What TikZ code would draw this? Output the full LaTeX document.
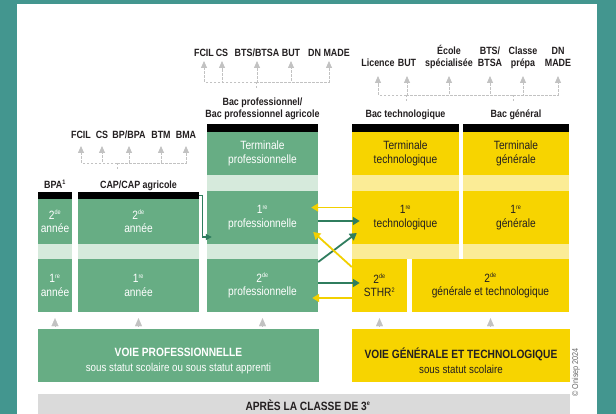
\documentclass[tikz,border=0pt]{standalone}
\usepackage{fontspec}
\setmainfont{Liberation Sans}[FakeStretch=0.85]
\usetikzlibrary{arrows.meta,calc,positioning}

\definecolor{frame}{HTML}{43968F}
\definecolor{pgreen}{HTML}{67AD84}
\definecolor{pband}{HTML}{D6EADC}
\definecolor{gyellow}{HTML}{F7D400}
\definecolor{gband}{HTML}{FBEC96}
\definecolor{arrgreen}{HTML}{2F7D5E}
\definecolor{arryellow}{HTML}{F2D000}
\definecolor{soft}{HTML}{C2C2C2}
\definecolor{after}{HTML}{DADADA}
\definecolor{ink}{HTML}{231F20}
\newcommand{\ord}[1]{\textsuperscript{\fontsize{6.5}{7}\selectfont #1}}

\begin{document}
\begin{tikzpicture}[x=1pt, y=-1pt,
	cell/.style={inner sep=0pt, align=center, font=\fontsize{12}{13.5}\selectfont},
	pcell/.style={cell, fill=pgreen, text=white},
	gcell/.style={cell, fill=gyellow, text=ink},
	bar/.style={fill=black, inner sep=0pt, minimum height=8pt},
	lbl/.style={inner sep=0pt, align=center, text depth=2pt, text=ink, font=\bfseries\fontsize{10.5}{12}\selectfont},
	dest/.style={lbl, anchor=south},
	dline/.style={draw=soft, line width=0.8pt, dash pattern=on 2.5pt off 1.5pt},
	tolevel/.style={dline, -{Triangle[width=6pt,length=7pt]}},
	uptip/.style={draw=soft, line width=0.1pt, -{Triangle[width=7pt,length=8pt]}},
	garr/.style={draw=arrgreen, line width=1.8pt, -{Triangle[width=8pt,length=7pt]}},
	yarr/.style={garr, draw=arryellow}]
	\useasboundingbox (0,0) rectangle (616,414);
	\fill[frame] (0,0) rectangle (616,414);
	\fill[white] (17,4) rectangle (597,414);

	% voie professionnelle
	\node[pcell, minimum width=34pt, minimum height=45pt] (bpa2) at (55,221.5) {2\ord{de}\\année};
	\node[pcell, minimum width=34pt, minimum height=53pt] (bpa1) at (55,285.5) {1\ord{re}\\année};
	\node[pcell, minimum width=121pt, minimum height=45pt] (cap2) at (138.5,221.5) {2\ord{de}\\année};
	\node[pcell, minimum width=121pt, minimum height=53pt] (cap1) at (138.5,285.5) {1\ord{re}\\année};
	\node[pcell, minimum width=111pt, minimum height=43pt] (protle) at (262.5,153.5) {Terminale\\professionnelle};
	\node[pcell, minimum width=111pt, minimum height=53pt] (pro1) at (262.5,217.5) {1\ord{re}\\professionnelle};
	\node[pcell, minimum width=111pt, minimum height=53pt] (pro2) at (262.5,285.5) {2\ord{de}\\professionnelle};
	\fill[pband] (bpa2.south west) rectangle (bpa1.north east);
	\fill[pband] (cap2.south west) rectangle (cap1.north east);
	\fill[pband] (protle.south west) rectangle (pro1.north east);
	\fill[pband] (pro1.south west) rectangle (pro2.north east);
	\node[bar, minimum width=34pt, minimum height=7pt, anchor=south] (bpabar) at (bpa2.north) {};
	\node[bar, minimum width=121pt, minimum height=7pt, anchor=south] (capbar) at (cap2.north) {};
	\node[bar, minimum width=111pt, anchor=south] (probar) at (protle.north) {};
	\node[lbl, above=1pt of bpabar] (bpalbl) {BPA\ord{1}};
	\node[lbl, above=1pt of capbar] (caplbl) {CAP/CAP agricole};
	\node[lbl, above=4pt of probar] (bacpro) {Bac professionnel/\\Bac professionnel agricole};

	% voie generale et technologique
	\node[gcell, minimum width=107pt, minimum height=43pt] (techtle) at (405.5,153.5) {Terminale\\technologique};
	\node[gcell, minimum width=106pt, minimum height=43pt] (gentle) at (516,153.5) {Terminale\\générale};
	\node[gcell, minimum width=107pt, minimum height=53pt] (tech1) at (405.5,217.5) {1\ord{re}\\technologique};
	\node[gcell, minimum width=106pt, minimum height=53pt] (gen1) at (516,217.5) {1\ord{re}\\générale};
	\node[gcell, minimum width=55pt, minimum height=53pt] (sthr) at (379.5,285.5) {2\ord{de}\\STHR\ord{2}};
	\node[gcell, minimum width=157pt, minimum height=53pt] (gt2) at (490.5,285.5) {2\ord{de}\\générale et technologique};
	\fill[gband] (techtle.south west) rectangle (tech1.north east);
	\fill[gband] (gentle.south west) rectangle (gen1.north east);
	\fill[gband] (tech1.south west) rectangle (tech1.south east |- sthr.north);
	\fill[gband] (gen1.south west) rectangle (gen1.south east |- gt2.north);
	\node[bar, minimum width=107pt, anchor=south] (techbar) at (techtle.north) {};
	\node[bar, minimum width=106pt, anchor=south] (genbar) at (gentle.north) {};
	\node[lbl, above=4pt of techbar] (bactech) {Bac technologique};
	\node[lbl, above=4pt of genbar] (bacgen) {Bac général};

	% poursuites d'etudes
	\node[dest] (pfcil) at (204,59) {FCIL};
	\node[dest] (pcs) at (222,59) {CS};
	\node[dest] (pbts) at (257,59) {BTS/BTSA};
	\node[dest] (pbut) at (291,59) {BUT};
	\node[dest] (pdn) at (329,59) {DN MADE};
	\coordinate (jpro) at (256,82);
	\foreach \d in {pfcil,pcs,pbts,pbut,pdn}
		\draw[tolevel, shorten >=2pt] (jpro) -| (\d);
	\draw[dline] (jpro) -- ++(0,6);

	\node[dest] (tlic) at (378,69) {Licence};
	\node[dest] (tbut) at (407,69) {BUT};
	\node[dest] (tecole) at (449,69) {École\\spécialisée};
	\node[dest] (gbts) at (490,69) {BTS/\\BTSA};
	\node[dest] (gcl) at (523,69) {Classe\\prépa};
	\node[dest] (gdn) at (558,69) {DN\\MADE};
	\coordinate (jtech) at (406,95);
	\coordinate (jgen) at (513,95);
	\draw[dline] (jtech) -- (jgen);
	\foreach \d in {tlic,tbut,tecole}
		\draw[tolevel, shorten >=7pt] (jtech) -| (\d);
	\foreach \d in {gbts,gcl,gdn}
		\draw[tolevel, shorten >=7pt] (jgen) -| (\d);
	\draw[dline] (jtech) -- ++(0,7);
	\draw[dline] (jgen) -- ++(0,7);

	\node[dest] (cfcil) at (81,141) {FCIL};
	\node[dest] (ccs) at (102,141) {CS};
	\node[dest] (cbp) at (129,141) {BP/BPA};
	\node[dest] (cbtm) at (161,141) {BTM};
	\node[dest] (cbma) at (186,141) {BMA};
	\coordinate (jcap) at (117,163);
	\foreach \d in {cfcil,ccs,cbp,cbtm,cbma}
		\draw[tolevel, shorten >=5pt] (jcap) -| (\d);
	\draw[dline] (jcap) -- ++(0,7);

	% passerelles
	\draw[draw=arrgreen, line width=1.1pt, -{Triangle[width=6pt,length=6pt]}] (capbar.east) -- ++(3,0) |- ($(pro1.west)+(5,19.5)$);
	\draw[yarr] ($(tech1.west)+(0,-10)$) -- ($(pro1.east)+(-7,-10)$);
	\draw[garr] ($(pro1.east)+(0,3.5)$) -- ($(tech1.west)+(8,3.5)$);
	\draw[garr] ($(pro2.east)+(0,-23.5)$) -- ($(tech1.west)+(5,15.5)$);
	\draw[yarr] ($(sthr.west)+(0,-18.5)$) -- ($(pro1.east)+(-5,14.5)$);
	\draw[garr] ($(pro2.east)+(0,-2.5)$) -- ($(sthr.west)+(8,-2.5)$);
	\draw[yarr] ($(sthr.west)+(0,12.5)$) -- ($(pro2.east)+(-6,12.5)$);

	% voies
	\node[pcell, minimum width=281pt, minimum height=53pt] (voiepro) at (178.5,355.5) {};
	\node[cell, text=white, font=\fontsize{12}{15}\selectfont] (voieprotxt) at (178.5,361) {{\bfseries VOIE PROFESSIONNELLE}\\{\fontsize{11.5}{15}\selectfont sous statut scolaire ou sous statut apprenti}};
	\node[gcell, minimum width=218pt, minimum height=53pt] (voiegt) at (461,355.5) {};
	\node[cell, text=ink, font=\fontsize{12}{15}\selectfont] (voiegttxt) at (461,361) {{\bfseries VOIE GÉNÉRALE ET TECHNOLOGIQUE}\\{\fontsize{11.5}{15}\selectfont sous statut scolaire}};
	\foreach \c in {bpa1,cap1,pro2,sthr,gt2}
		\draw[uptip, shorten <=3pt, shorten >=6pt] (\c.south |- voiepro.north) -- (\c.south);

	\node[fill=after, inner sep=0pt, minimum width=532pt, minimum height=20pt] (apres) at (304,404) {};
	\node[inner sep=0pt, text=ink, font=\bfseries\fontsize{12}{14}\selectfont] (aprestxt) at (308,405) {APRÈS LA CLASSE DE 3\ord{e}};
	\node[rotate=90, anchor=east, inner sep=0pt, text=black!60, font=\fontsize{8.5}{10}\selectfont] (copy) at (576,348) {© Onisep 2024};
\end{tikzpicture}
\end{document}
